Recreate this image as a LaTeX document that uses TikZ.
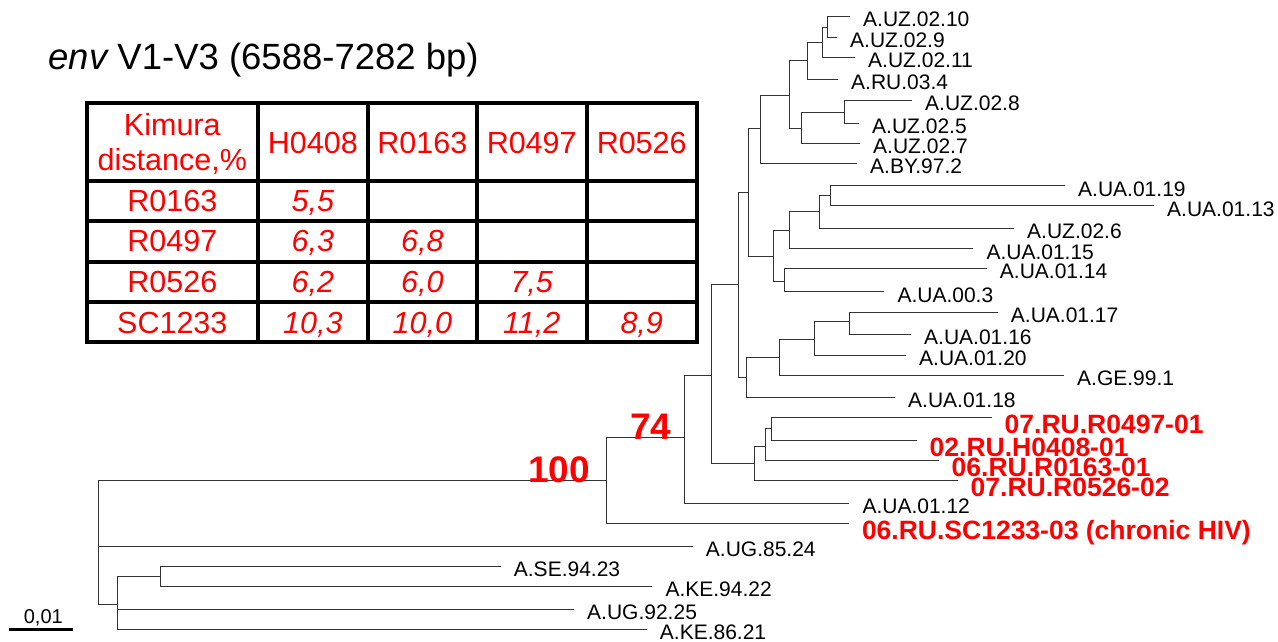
\documentclass[tikz,border=0pt]{standalone}
\usepackage{fontspec}
\setmainfont{Liberation Sans}
\definecolor{tred}{RGB}{255,0,0}
\begin{document}
\begin{tikzpicture}[x=1pt,y=-1pt,
  br/.style={draw=black!80, line width=1pt},
  leaf/.style={anchor=base west, inner sep=0pt, font=\fontsize{21}{24}\selectfont, xshift=13pt, yshift=-10.5pt},
  rleaf/.style={anchor=base west, inner sep=0pt, text=tred, font=\fontsize{26.5}{30}\selectfont\bfseries, xshift=12.5pt, yshift=-16pt},
  boot/.style={anchor=base east, inner sep=0pt, text=tred, font=\fontsize{37}{40}\selectfont\bfseries},
  cell/.style={anchor=base, inner sep=0pt, text=tred, font=\fontsize{30.5}{34}\selectfont},
  val/.style={anchor=base, inner sep=0pt, text=tred, font=\fontsize{30.5}{34}\selectfont\itshape},
  grid/.style={draw=black, line width=4pt},
]
\useasboundingbox (0,0) rectangle (1278,641);

% ---------- title ----------
\node[anchor=base west, inner sep=0pt, font=\fontsize{36.5}{40}\selectfont] (title) at (48.3,69.3) {{\itshape env} V1-V3 (6588-7282 bp)};

% ---------- table ----------
\draw[grid] (87,103.3) rectangle (696.7,342.3);
\foreach \xx in {257.7,368,476.7,586.7} \draw[grid] (\xx,103.3) -- (\xx,342.3);
\foreach \yy in {180.7,220.7,261.7,302.3} \draw[grid] (87,\yy) -- (696.7,\yy);

\node[cell] (hk1) at (172.3,135) {Kimura};
\node[cell] (hk2) at (172.3,170) {distance,\%};
\node[cell] (h1) at (312.9,153.3) {H0408};
\node[cell] (h2) at (422.3,153.3) {R0163};
\node[cell] (h3) at (531.7,153.3) {R0497};
\node[cell] (h4) at (641.7,153.3) {R0526};
\node[cell] (r1) at (172.3,211.4) {R0163};
\node[cell] (r2) at (172.3,251.9) {R0497};
\node[cell] (r3) at (172.3,292.7) {R0526};
\node[cell] (r4) at (172.3,333.0) {SC1233};
\node[val] (v11) at (312.9,211.4) {5,5};
\node[val] (v21) at (312.9,251.9) {6,3};
\node[val] (v22) at (422.3,251.9) {6,8};
\node[val] (v31) at (312.9,292.7) {6,2};
\node[val] (v32) at (422.3,292.7) {6,0};
\node[val] (v33) at (531.7,292.7) {7,5};
\node[val] (v41) at (312.9,333.0) {10,3};
\node[val] (v42) at (422.3,333.0) {10,0};
\node[val] (v43) at (531.7,333.0) {11,2};
\node[val] (v44) at (641.7,333.0) {8,9};

% ---------- internal nodes ----------
\coordinate (R0)   at (98.3,546);
\coordinate (N100) at (606,480.7);
\coordinate (N74)  at (684.3,437.3);
\coordinate (Na)   at (711.7,375);
\coordinate (Nc)   at (738.3,284);
\coordinate (Nd)   at (748.5,192.7);
\coordinate (Nf)   at (760.5,128);
\coordinate (Nh)   at (789,95);
\coordinate (Ni)   at (807,60);
\coordinate (Nk)   at (822,42);
\coordinate (Nl)   at (827,27);
\coordinate (Nj)   at (801,128);
\coordinate (Nm)   at (844,112);
\coordinate (Ng)   at (773.3,256.7);
\coordinate (No)   at (789.3,230.7);
\coordinate (Nq)   at (819.3,211.7);
\coordinate (Nr)   at (830,195.7);
\coordinate (Np)   at (784.3,281);
\coordinate (Ne)   at (746.7,377.7);
\coordinate (Ns)   at (779.3,357);
\coordinate (Nt)   at (814.3,339.3);
\coordinate (Nu)   at (849,321.7);
\coordinate (Nred) at (754.3,463.3);
\coordinate (Nv)   at (765.7,446);
\coordinate (Nw)   at (771,428);
\coordinate (Nb)   at (117.3,604);
\coordinate (Nx)   at (160.7,576);

% ---------- leaf tips ----------
\coordinate (tUZ0210) at (850,16);
\coordinate (tUZ029)  at (837,37);
\coordinate (tUZ0211) at (855,57);
\coordinate (tRU034)  at (838,79);
\coordinate (tUZ028)  at (912,100);
\coordinate (tUZ025)  at (859,123);
\coordinate (tUZ027)  at (860,143);
\coordinate (tBY972)  at (857,163.3);
\coordinate (tUA0119) at (1065,185.7);
\coordinate (tUA0113) at (1154,205.7);
\coordinate (tUZ026)  at (1014,228.3);
\coordinate (tUA0115) at (973.3,248.7);
\coordinate (tUA0114) at (986.7,268.3);
\coordinate (tUA003)  at (884.3,291.7);
\coordinate (tUA0117) at (997.7,312.3);
\coordinate (tUA0116) at (911,334);
\coordinate (tUA0120) at (906,355);
\coordinate (tGE991)  at (1064,375);
\coordinate (tUA0118) at (895,397.3);
\coordinate (tR0497)  at (992,417.7);
\coordinate (tH0408)  at (917,440.7);
\coordinate (tR0163)  at (939,460.3);
\coordinate (tR0526)  at (958,480.7);
\coordinate (tUA0112) at (849.3,503.3);
\coordinate (tSC1233) at (849.3,523.3);
\coordinate (tUG8524) at (692.7,546);
\coordinate (tSE9423) at (500.7,566);
\coordinate (tKE9422) at (652.3,586);
\coordinate (tUG9225) at (574,609);
\coordinate (tKE8621) at (646.7,629.3);

% ---------- branches ----------
\draw[br] (R0) |- (N100);
\draw[br] (R0) |- (tUG8524);
\draw[br] (R0) |- (Nb);
\draw[br] (N100) |- (N74);
\draw[br] (N100) |- (tSC1233);
\draw[br] (N74) |- (Na);
\draw[br] (N74) |- (tUA0112);
\draw[br] (Na) |- (Nc);
\draw[br] (Na) |- (Nred);
\draw[br] (Nc) |- (Nd);
\draw[br] (Nc) |- (Ne);
\draw[br] (Nd) |- (Nf);
\draw[br] (Nd) |- (Ng);
\draw[br] (Nf) |- (Nh);
\draw[br] (Nf) |- (tBY972);
\draw[br] (Nh) |- (Ni);
\draw[br] (Nh) |- (Nj);
\draw[br] (Ni) |- (Nk);
\draw[br] (Ni) |- (tRU034);
\draw[br] (Nk) |- (Nl);
\draw[br] (Nk) |- (tUZ0211);
\draw[br] (Nl) |- (tUZ0210);
\draw[br] (Nl) |- (tUZ029);
\draw[br] (Nj) |- (Nm);
\draw[br] (Nj) |- (tUZ027);
\draw[br] (Nm) |- (tUZ028);
\draw[br] (Nm) |- (tUZ025);
\draw[br] (Ng) |- (No);
\draw[br] (Ng) |- (Np);
\draw[br] (No) |- (Nq);
\draw[br] (No) |- (tUA0115);
\draw[br] (Nq) |- (Nr);
\draw[br] (Nq) |- (tUZ026);
\draw[br] (Nr) |- (tUA0119);
\draw[br] (Nr) |- (tUA0113);
\draw[br] (Np) |- (tUA0114);
\draw[br] (Np) |- (tUA003);
\draw[br] (Ne) |- (Ns);
\draw[br] (Ne) |- (tUA0118);
\draw[br] (Ns) |- (Nt);
\draw[br] (Ns) |- (tGE991);
\draw[br] (Nt) |- (Nu);
\draw[br] (Nt) |- (tUA0120);
\draw[br] (Nu) |- (tUA0117);
\draw[br] (Nu) |- (tUA0116);
\draw[br] (Nred) |- (Nv);
\draw[br] (Nred) |- (tR0526);
\draw[br] (Nv) |- (Nw);
\draw[br] (Nv) |- (tR0163);
\draw[br] (Nw) |- (tR0497);
\draw[br] (Nw) |- (tH0408);
\draw[br] (Nb) |- (Nx);
\draw[br] (Nb) |- (tUG9225);
\draw[br] (Nb) |- (tKE8621);
\draw[br] (Nx) |- (tSE9423);
\draw[br] (Nx) |- (tKE9422);

% ---------- labels ----------
\node[leaf] (lUZ0210) at (tUZ0210) {A.UZ.02.10};
\node[leaf] (lUZ029)  at (tUZ029)  {A.UZ.02.9};
\node[leaf] (lUZ0211) at (tUZ0211) {A.UZ.02.11};
\node[leaf] (lRU034)  at (tRU034)  {A.RU.03.4};
\node[leaf] (lUZ028)  at (tUZ028)  {A.UZ.02.8};
\node[leaf] (lUZ025)  at (tUZ025)  {A.UZ.02.5};
\node[leaf] (lUZ027)  at (tUZ027)  {A.UZ.02.7};
\node[leaf] (lBY972)  at (tBY972)  {A.BY.97.2};
\node[leaf] (lUA0119) at (tUA0119) {A.UA.01.19};
\node[leaf] (lUA0113) at (tUA0113) {A.UA.01.13};
\node[leaf] (lUZ026)  at (tUZ026)  {A.UZ.02.6};
\node[leaf] (lUA0115) at (tUA0115) {A.UA.01.15};
\node[leaf] (lUA0114) at (tUA0114) {A.UA.01.14};
\node[leaf] (lUA003)  at (tUA003)  {A.UA.00.3};
\node[leaf] (lUA0117) at (tUA0117) {A.UA.01.17};
\node[leaf] (lUA0116) at (tUA0116) {A.UA.01.16};
\node[leaf] (lUA0120) at (tUA0120) {A.UA.01.20};
\node[leaf] (lGE991)  at (tGE991)  {A.GE.99.1};
\node[leaf] (lUA0118) at (tUA0118) {A.UA.01.18};
\node[rleaf] (lR0497) at (tR0497) {07.RU.R0497-01};
\node[rleaf] (lH0408) at (tH0408) {02.RU.H0408-01};
\node[rleaf] (lR0163) at (tR0163) {06.RU.R0163-01};
\node[rleaf] (lR0526) at (tR0526) {07.RU.R0526-02};
\node[leaf] (lUA0112) at (tUA0112) {A.UA.01.12};
\node[rleaf] (lSC1233) at (tSC1233) {06.RU.SC1233-03 (chronic HIV)};
\node[leaf] (lUG8524) at (tUG8524) {A.UG.85.24};
\node[leaf] (lSE9423) at (tSE9423) {A.SE.94.23};
\node[leaf] (lKE9422) at (tKE9422) {A.KE.94.22};
\node[leaf] (lUG9225) at (tUG9225) {A.UG.92.25};
\node[leaf] (lKE8621) at (tKE8621) {A.KE.86.21};

% ---------- bootstrap values ----------
\node[boot, xshift=-12.6pt, yshift=-2pt] (b74) at (N74) {74};
\node[boot, xshift=-16pt, yshift=-1.6pt] (b100) at (N100) {100};

% ---------- scale bar ----------
\coordinate (sb1) at (9.3,629.3);
\coordinate (sb2) at (72.7,629.3);
\draw[line width=3pt] (sb1) -- (sb2);
\node[anchor=base, inner sep=0pt, font=\fontsize{20}{22}\selectfont] (sblab) at (43.3,623.3) {0,01};
\end{tikzpicture}
\end{document}
